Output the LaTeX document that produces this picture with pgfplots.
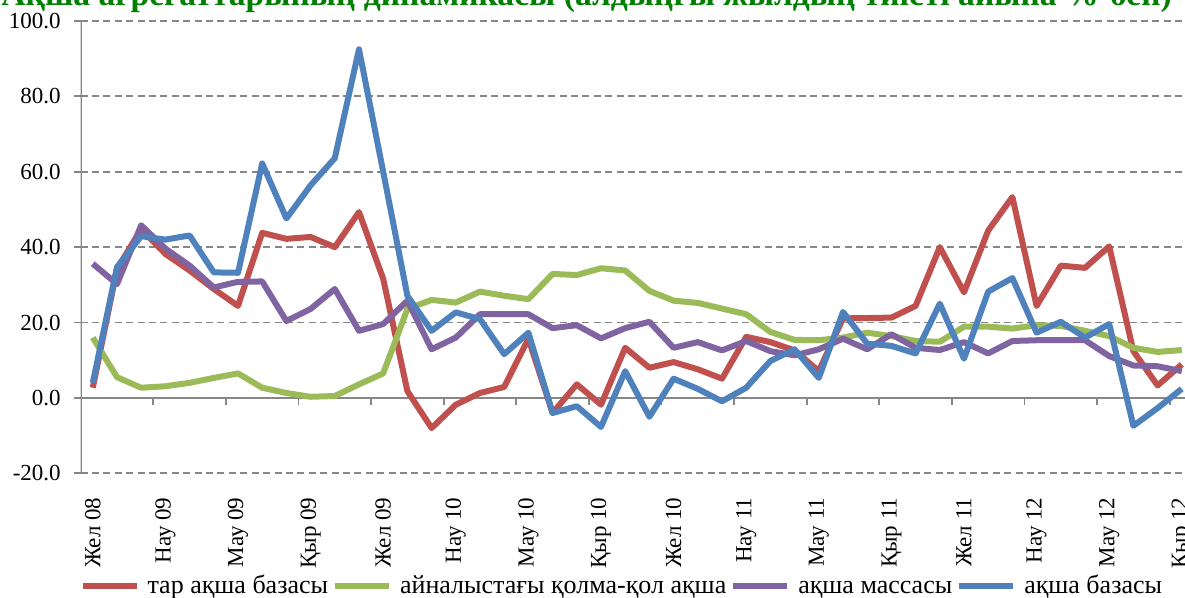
\documentclass[border=0pt]{standalone}
\usepackage{fontspec}
\setmainfont{Liberation Serif}
\usepackage{pgfplots}
\pgfplotsset{compat=1.18}
\definecolor{mbred}{HTML}{C0504D}
\definecolor{mbgreen}{HTML}{9BBB59}
\definecolor{mbpurple}{HTML}{8064A2}
\definecolor{mbblue}{HTML}{4F81BD}
\definecolor{gridgray}{HTML}{878787}
\definecolor{titlegreen}{HTML}{008000}

\begin{document}
\begin{tikzpicture}[x=1pt,y=1pt]
\useasboundingbox (0,0) rectangle (592.5,299);
\clip (0,0) rectangle (592.5,299);
\node[anchor=base west,inner sep=0pt,text=titlegreen,font=\bfseries\fontsize{16.8}{19}\selectfont] at (0.5,296.3)
  {Ақша агрегаттарының динамикасы (алдыңғы жылдың тиісті айына \%-бен)};
\begin{axis}[
  at={(40.35pt,62.35pt)},anchor=south west,
  scale only axis,width=556.6pt,height=226.15pt,
  xmin=-0.5,xmax=45.5,ymin=-20,ymax=100,
  axis line style={draw=none},
  xtick={0,3,...,45},
  xticklabels={Жел 08,Нау 09,Мау 09,Қыр 09,Жел 09,Нау 10,Мау 10,Қыр 10,Жел 10,Нау 11,Мау 11,Қыр 11,Жел 11,Нау 12,Мау 12,Қыр 12},
  xtick style={draw=none},
  xticklabel style={rotate=90,anchor=east,inner xsep=8.5pt,inner ysep=0pt},
  ytick={-20,0,...,100},
  yticklabels={-20.0,0.0,20.0,40.0,60.0,80.0,100.0},
  ytick pos=left,tick align=outside,major tick length=3.5pt,
  ytick style={draw=gridgray,line width=0.9pt},
  yticklabel style={anchor=east,inner xsep=6.3pt},
  tick label style={font=\fontsize{11.5}{13}\selectfont},
  ymajorgrids,
  grid style={gridgray,line width=0.9pt,dash pattern=on 3.5pt off 2.2pt},
  legend columns=4,
  legend style={draw=none,fill=none,at={(axis description cs:0.487,-0.2536)},anchor=center,
    font=\fontsize{13}{15}\selectfont,inner sep=0pt,
    nodes={text height=9pt,text depth=3pt},
    /tikz/every odd column/.append style={column sep=2pt}},
  legend image code/.code={\draw[#1] (0pt,1pt) -- (27pt,1pt);},
  every axis plot/.append style={line width=3pt,line join=round,mark=none},
]
\draw[gridgray,line width=0.9pt] (axis cs:-0.5,-20) -- (axis cs:-0.5,100);
\draw[gridgray,line width=0.9pt] (axis cs:-0.5,0) -- (axis cs:45.5,0);
\pgfplotsinvokeforeach{2.5,5.5,...,44.5}{\draw[gridgray,line width=0.9pt] (axis cs:#1,0) -- ++(0pt,-3.5pt);}

\addplot[mbred] coordinates {(0,2.7) (1,34.2) (2,44.8) (3,38.2) (4,33.8) (5,28.9) (6,24.4) (7,43.8) (8,42.2) (9,42.7) (10,40.0) (11,49.3) (12,31.6) (13,1.8) (14,-8.0) (15,-1.8) (16,1.3) (17,2.9) (18,15.7) (19,-4.0) (20,3.6) (21,-1.8) (22,13.3) (23,8.0) (24,9.5) (25,7.6) (26,5.1) (27,16.2) (28,14.8) (29,12.6) (30,7.1) (31,21.1) (32,21.2) (33,21.3) (34,24.4) (35,40.0) (36,28.0) (37,44.4) (38,53.3) (39,24.4) (40,35.1) (41,34.5) (42,40.2) (43,12.4) (44,3.3) (45,8.9)};
\addlegendentry{тар ақша базасы}
\addplot[mbgreen] coordinates {(0,16.0) (1,5.5) (2,2.7) (3,3.1) (4,4.0) (5,5.3) (6,6.5) (7,2.7) (8,1.3) (9,0.3) (10,0.5) (11,3.6) (12,6.5) (13,23.6) (14,26.0) (15,25.3) (16,28.2) (17,27.1) (18,26.2) (19,32.9) (20,32.6) (21,34.4) (22,33.8) (23,28.4) (24,25.8) (25,25.2) (26,23.7) (27,22.2) (28,17.5) (29,15.4) (30,15.3) (31,16.0) (32,17.3) (33,16.4) (34,15.1) (35,14.9) (36,18.9) (37,18.9) (38,18.4) (39,19.3) (40,19.1) (41,17.8) (42,16.4) (43,13.3) (44,12.2) (45,12.7)};
\addlegendentry{айналыстағы қолма-қол ақша}
\addplot[mbpurple] coordinates {(0,35.6) (1,30.2) (2,45.8) (3,39.6) (4,35.1) (5,29.3) (6,30.8) (7,30.9) (8,20.4) (9,23.6) (10,28.9) (11,17.8) (12,19.6) (13,25.8) (14,12.9) (15,16.0) (16,22.2) (17,22.2) (18,22.2) (19,18.5) (20,19.3) (21,15.8) (22,18.5) (23,20.2) (24,13.3) (25,14.8) (26,12.6) (27,15.1) (28,12.4) (29,11.3) (30,12.9) (31,15.7) (32,12.9) (33,16.9) (34,13.3) (35,12.7) (36,14.8) (37,11.8) (38,15.1) (39,15.3) (40,15.3) (41,15.3) (42,11.1) (43,8.6) (44,8.4) (45,7.1)};
\addlegendentry{ақша массасы}
\addplot[mbblue] coordinates {(0,4.0) (1,34.7) (2,42.9) (3,42.0) (4,43.1) (5,33.3) (6,33.2) (7,62.2) (8,47.6) (9,56.4) (10,63.6) (11,92.5) (12,60.0) (13,27.1) (14,17.8) (15,22.7) (16,20.9) (17,11.6) (18,17.3) (19,-4.0) (20,-2.2) (21,-7.7) (22,7.1) (23,-5.0) (24,5.1) (25,2.4) (26,-0.9) (27,2.7) (28,9.8) (29,12.9) (30,5.3) (31,22.8) (32,14.4) (33,13.8) (34,11.8) (35,25.0) (36,10.4) (37,28.2) (38,31.8) (39,17.3) (40,20.2) (41,16.0) (42,19.6) (43,-7.4) (44,-2.7) (45,2.4)};
\addlegendentry{ақша базасы}
\end{axis}
\end{tikzpicture}
\end{document}
